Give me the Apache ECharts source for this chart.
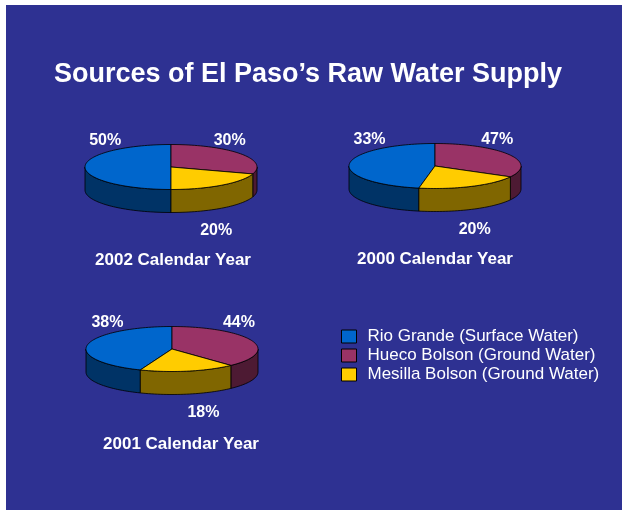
<!DOCTYPE html>
<html><head><meta charset="utf-8">
<script src="https://cdn.jsdelivr.net/npm/echarts@6/dist/echarts.min.js"></script>
<style>html,body{margin:0;padding:0;background:#fff}#c{width:622px;height:510px}</style>
</head><body><div id="c"></div>
<script>
// ---- data ----
const chartTitle = 'Sources of El Paso’s Raw Water Supply';
const years = ['2002 Calendar Year', '2000 Calendar Year', '2001 Calendar Year'];
const sources = ['Rio Grande (Surface Water)', 'Hueco Bolson (Ground Water)', 'Mesilla Bolson (Ground Water)'];
// slice shares as drawn (per year, same order as `years`)
const rioGrande = [50, 47, 44];
const huecoBolson = [30, 33, 38];
const mesillaBolson = [20, 20, 18];
// percentages as printed on the slide next to each slice
const rioGrandeLabels = ['50%', '33%', '38%'];
const huecoBolsonLabels = ['30%', '47%', '44%'];
const mesillaBolsonLabels = ['20%', '20%', '18%'];

// ---- styling / layout ----
const values = [rioGrande, huecoBolson, mesillaBolson];
const labels = [rioGrandeLabels, huecoBolsonLabels, mesillaBolsonLabels];
const topColors = ['#0066CC', '#993366', '#FFCC00'];
const sideColors = ['#003366', '#4D1A33', '#806600'];
const clockwiseOrder = [1, 2, 0]; // slices clockwise from 12 o'clock
const pies = [{cx: 171, cy: 167}, {cx: 435, cy: 166}, {cx: 172, cy: 349}];
const yearPos = [[173, 260], [435, 259], [181, 444]];
const RX = 86, RY = 22.5, DEPTH = 23;
const FONT = '"Liberation Sans", Arial, Helvetica, sans-serif';

function renderItem(params, api) {
  const s = params.seriesIndex, y = params.dataIndex;
  const total = values.reduce((a, v) => a + v[y], 0);
  let start = 0;
  for (const k of clockwiseOrder) { if (k === s) break; start += values[k][y]; }
  const a0 = start / total * 360, a1 = (start + api.value(0)) / total * 360;
  const p = pies[y];
  const pt = (deg, dz) => { const r = deg * Math.PI / 180; return [p.cx + RX * Math.sin(r), p.cy - RY * Math.cos(r) + dz]; };
  const arc = (from, to, dz) => {
    const pts = []; const n = Math.max(2, Math.ceil((to - from) / 2));
    for (let i = 0; i <= n; i++) pts.push(pt(from + (to - from) * i / n, dz));
    return pts;
  };
  const children = [];
  const w0 = Math.max(a0, 90), w1 = Math.min(a1, 270);
  if (w1 > w0) {
    children.push({type: 'polygon', shape: {points: arc(w0, w1, 0).concat(arc(w0, w1, DEPTH).reverse())},
      style: {fill: sideColors[s], stroke: '#000', lineWidth: 0.8}});
  }
  children.push({type: 'polygon', shape: {points: [[p.cx, p.cy]].concat(arc(a0, a1, 0))},
    style: {fill: topColors[s], stroke: '#000', lineWidth: 0.8}});
  const m = (a0 + a1) / 2 * Math.PI / 180;
  let lx, ly;
  if (Math.cos(m) > -0.2) { lx = p.cx + 0.8 * RX * Math.sin(m) + 3; ly = p.cy - RY - 4; }
  else { lx = p.cx + 0.4 * RX * Math.sin(m) + 25; ly = p.cy + RY + DEPTH + 18; }
  children.push({type: 'text', x: lx, y: ly, style: {text: labels[s][y], fill: '#fff',
    font: 'bold 16px ' + FONT, align: 'center', verticalAlign: 'middle'}});
  return {type: 'group', children};
}

const chart = echarts.init(document.getElementById('c'));
chart.setOption({
  animation: false,
  backgroundColor: '#fff',
  graphic: [
    {type: 'rect', shape: {x: 6, y: 5, width: 616, height: 505}, style: {fill: '#2E3192'}, z: -10, silent: true},
    {type: 'text', x: 308, y: 75, style: {text: chartTitle, fill: '#fff', font: 'bold 27px ' + FONT, align: 'center', verticalAlign: 'middle'}}
  ].concat(years.map((t, i) => ({type: 'text', x: yearPos[i][0], y: yearPos[i][1],
    style: {text: t, fill: '#fff', font: 'bold 17px ' + FONT, align: 'center', verticalAlign: 'middle'}}))),
  legend: {
    data: sources, orient: 'vertical', left: 341, top: 327, padding: 0,
    icon: 'rect', itemWidth: 15, itemHeight: 13, itemGap: 0, selectedMode: false,
    itemStyle: {borderColor: '#000', borderWidth: 1},
    textStyle: {color: '#fff', fontSize: 17, fontFamily: FONT, lineHeight: 19, padding: [0, 0, 0, 6]}
  },
  series: sources.map((name, s) => ({
    type: 'custom', name, coordinateSystem: 'none', data: values[s], renderItem,
    itemStyle: {color: topColors[s]}, silent: true
  }))
});
</script></body></html>
